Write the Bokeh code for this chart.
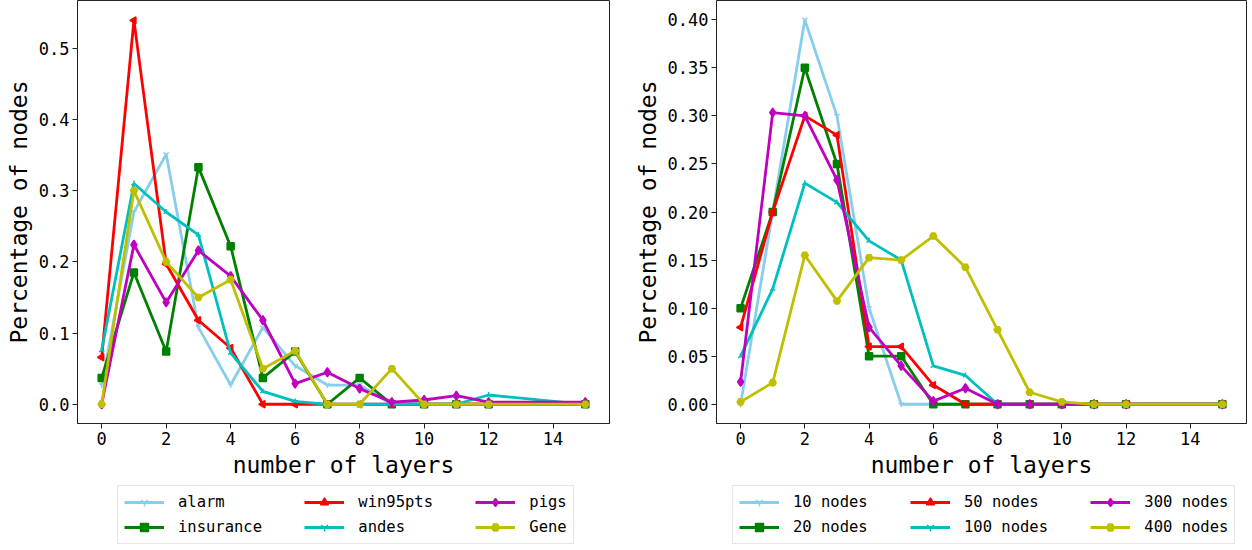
import math
from bokeh.plotting import figure
from bokeh.models import Range1d, FixedTicker, PrintfTickFormatter, Legend, LegendItem
from bokeh.layouts import row, column
from bokeh.embed import file_html
from bokeh.resources import INLINE

layers = [0, 1, 2, 3, 4, 5, 6, 7, 8, 9, 10, 11, 12, 15]

# left panel: benchmark networks
alarm = [0.027, 0.270, 0.351, 0.108, 0.027, 0.108, 0.054, 0.027, 0.027, 0, 0, 0, 0, 0]
insurance = [0.037, 0.185, 0.074, 0.333, 0.222, 0.037, 0.074, 0, 0.037, 0, 0, 0, 0, 0]
win95pts = [0.066, 0.539, 0.197, 0.118, 0.079, 0, 0, 0, 0, 0, 0, 0, 0, 0]
andes = [0.076, 0.310, 0.270, 0.238, 0.072, 0.018, 0.004, 0, 0, 0, 0, 0, 0.013, 0]
pigs = [0.0, 0.224, 0.143, 0.216, 0.180, 0.118, 0.029, 0.045, 0.022, 0.003, 0.006, 0.012, 0.003, 0.003]
gene = [0, 0.30, 0.20, 0.15, 0.175, 0.05, 0.075, 0, 0, 0.05, 0, 0, 0, 0]
left_names = ["alarm", "insurance", "win95pts", "andes", "pigs", "Gene"]
left_series = [alarm, insurance, win95pts, andes, pigs, gene]

# right panel: synthetic networks
n10 = [0, 0.20, 0.40, 0.30, 0.10, 0, 0, 0, 0, 0, 0, 0, 0, 0]
n20 = [0.10, 0.20, 0.35, 0.25, 0.05, 0.05, 0, 0, 0, 0, 0, 0, 0, 0]
n50 = [0.08, 0.20, 0.30, 0.28, 0.06, 0.06, 0.02, 0, 0, 0, 0, 0, 0, 0]
n100 = [0.05, 0.12, 0.23, 0.21, 0.17, 0.15, 0.04, 0.03, 0, 0, 0, 0, 0, 0]
n300 = [0.0233, 0.3033, 0.30, 0.2333, 0.08, 0.04, 0.0033, 0.0167, 0, 0, 0, 0, 0, 0]
n400 = [0.0025, 0.0225, 0.155, 0.1075, 0.1525, 0.15, 0.175, 0.1425, 0.0775, 0.0125, 0.0025, 0, 0, 0]
right_names = ["10 nodes", "20 nodes", "50 nodes", "100 nodes", "300 nodes", "400 nodes"]
right_series = [n10, n20, n50, n100, n300, n400]

left_yticks = [0.0, 0.1, 0.2, 0.3, 0.4, 0.5]
right_yticks = [0.0, 0.05, 0.10, 0.15, 0.20, 0.25, 0.30, 0.35, 0.40]
xticks = [0, 2, 4, 6, 8, 10, 12, 14]

colors = ["#87CEEB", "#008000", "#FF0000", "#00BFBF", "#BF00BF", "#BFBF00"]
markers = ["y", "square", "triangle", "y", "diamond", "hex"]
angles = [0, 0, math.pi / 2, math.pi, 0, 0]
msizes = [6, 7, 7, 6, 9, 7]

FONT = "DejaVu Sans Mono"
PAD = "\u00a0" * 4


def draw_series(p, names, series):
    rends = []
    for i, (name, ys) in enumerate(zip(names, series)):
        ln = p.line(layers, ys, line_color=colors[i], line_width=2.8)
        sc = p.scatter(layers, ys, marker=markers[i], size=msizes[i], angle=angles[i],
                       fill_color=colors[i], line_color=colors[i], line_width=1.5)
        rends.append((ln, sc))
    return rends


def make_fig(width, mbl, mbr, yr, yticks, fmt, names, series):
    p = figure(width=width, height=480, x_range=Range1d(-0.75, 15.75),
               y_range=Range1d(*yr), output_backend="svg", toolbar_location=None,
               min_border_left=mbl, min_border_right=mbr, min_border_top=0,
               min_border_bottom=0)
    p.grid.visible = False
    p.outline_line_color = "#222222"
    p.outline_line_width = 1
    p.background_fill_color = "white"
    p.border_fill_color = "white"
    for ax in (p.xaxis[0], p.yaxis[0]):
        ax.axis_line_color = "#222222"
        ax.major_tick_line_color = "#222222"
        ax.major_tick_out = 5
        ax.major_tick_in = 0
        ax.minor_tick_line_color = None
        ax.major_label_text_font = FONT
        ax.major_label_text_font_size = "17px"
        ax.major_label_text_color = "black"
        ax.axis_label_text_font = FONT
        ax.axis_label_text_font_size = "23px"
        ax.axis_label_text_font_style = "normal"
        ax.axis_label_text_color = "black"
        ax.major_label_standoff = 3
        ax.axis_label_standoff = 4
    p.xaxis.ticker = FixedTicker(ticks=xticks)
    p.yaxis.ticker = FixedTicker(ticks=yticks)
    p.yaxis.formatter = PrintfTickFormatter(format=fmt)
    p.xaxis.axis_label = "number of layers"
    p.yaxis.axis_label = "Percentage of nodes"
    draw_series(p, names, series)
    return p


def make_legend_fig(width, names, series, legend_x):
    # a strip that only carries the legend (its glyphs lie outside its view)
    q = figure(width=width, height=70, x_range=Range1d(100, 101), y_range=Range1d(100, 101),
               output_backend="svg", toolbar_location=None, min_border=0)
    q.axis.visible = False
    q.grid.visible = False
    q.outline_line_color = None
    q.background_fill_color = "white"
    q.border_fill_color = "white"
    rends = draw_series(q, names, series)
    items = []
    for i, (name, (ln, sc)) in enumerate(zip(names, rends)):
        label = name + PAD if i < 4 else name
        items.append(LegendItem(label=label, renderers=[ln, sc]))
    legend = Legend(items=items, ncols=3, location=(legend_x, 6),
                    label_text_font=FONT, label_text_font_size="15.5px",
                    label_text_color="black",
                    glyph_width=40, glyph_height=20, label_standoff=14,
                    spacing=5, padding=6, margin=0,
                    border_line_color="#cccccc", border_line_width=1,
                    background_fill_color="white", background_fill_alpha=1)
    q.add_layout(legend, "center")
    return q


p1 = make_fig(630, 77, 21, (-0.027, 0.567), left_yticks, "%.1f", left_names, left_series)
p2 = make_fig(622, 86, 6, (-0.02, 0.42), right_yticks, "%.2f", right_names, right_series)
q1 = make_legend_fig(630, left_names, left_series, 117)
q2 = make_legend_fig(622, right_names, right_series, 102)

layout = column(row(p1, p2), row(q1, q2))
open("out.html", "w").write(file_html(layout, INLINE))
